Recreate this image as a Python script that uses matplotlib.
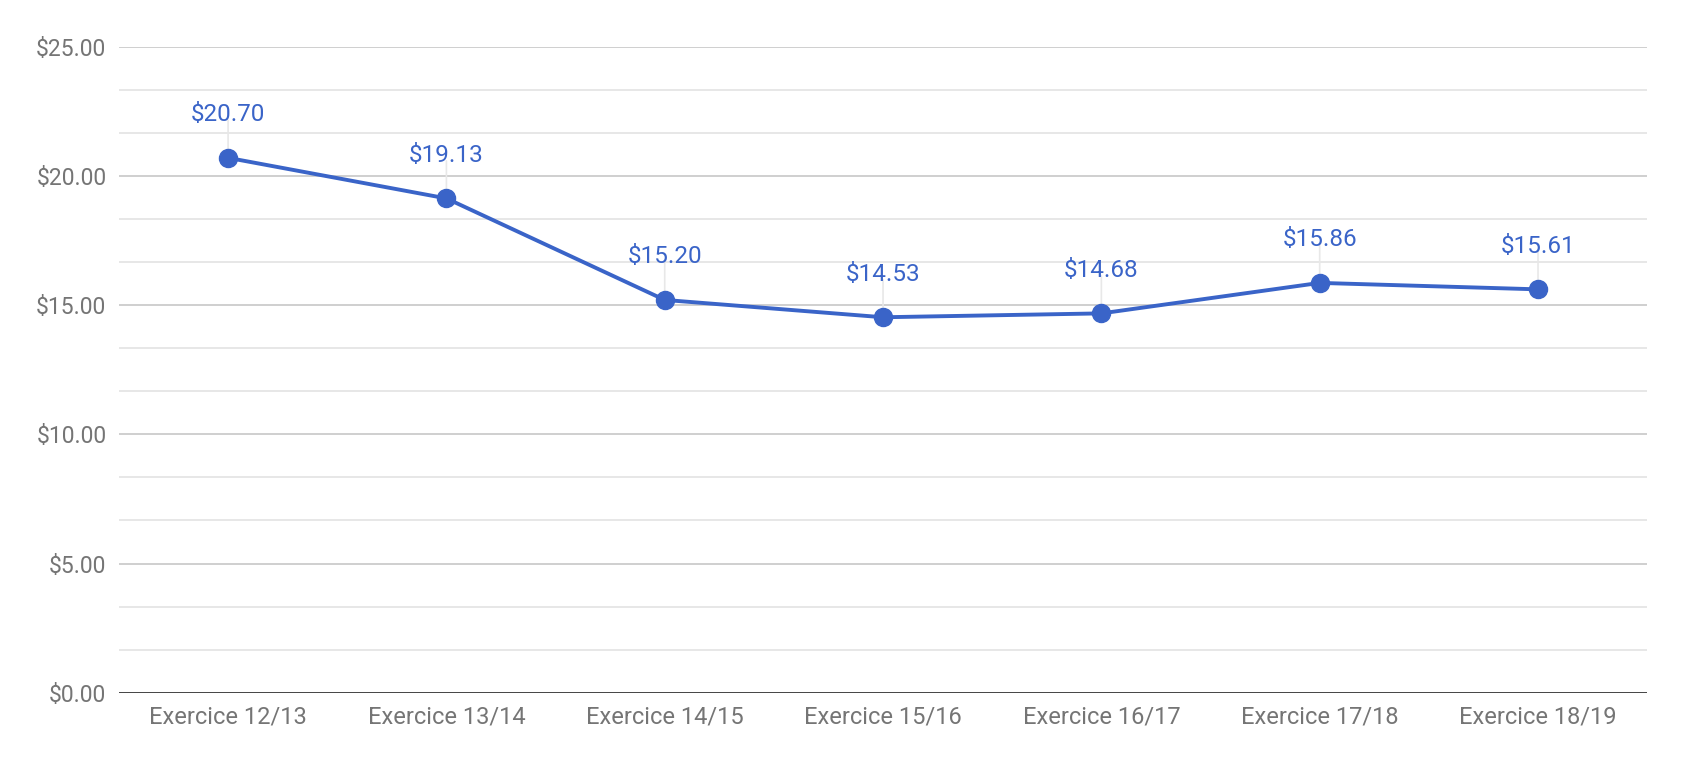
import matplotlib
matplotlib.use("Agg")
import matplotlib.pyplot as plt
import numpy as np

# data
categories = ["Exercice 12/13", "Exercice 13/14", "Exercice 14/15", "Exercice 15/16",
              "Exercice 16/17", "Exercice 17/18", "Exercice 18/19"]
values = [20.70, 19.13, 15.20, 14.53, 14.68, 15.86, 15.61]
y_ticks = [0, 5, 10, 15, 20, 25]

plt.rcParams['font.family'] = ['Roboto', 'DejaVu Sans']

blue = '#3a64c8'

fig = plt.figure(figsize=(16.82, 7.66), dpi=100)
ax = fig.add_axes([0.0707, 0.0957, 0.9086, 0.8433])

x = np.arange(len(categories))

# grid: major every 5, minor every 5/3
for v in np.arange(0, 25.01, 5 / 3):
    if abs(v - round(v / 5) * 5) < 1e-6:
        continue
    ax.axhline(v, color='#e5e5e5', linewidth=1.3, zorder=0)
for v in y_ticks[1:]:
    ax.axhline(v, color='#cccccc', linewidth=1.3, zorder=0)
ax.axhline(0, color='#333333', linewidth=2, zorder=1)

ax.plot(x, values, color=blue, linewidth=2.8, marker='o', markersize=13, zorder=3)

for xi, v in zip(x, values):
    ax.annotate('', xy=(xi, v), xytext=(0, 29), textcoords='offset points',
                arrowprops=dict(arrowstyle='-', color='#e8e8e8', lw=1.2), zorder=2)
    ax.annotate(f'${v:.2f}', xy=(xi, v), xytext=(0, 31), textcoords='offset points',
                ha='center', va='center', color=blue, fontsize=17.5)

ax.set_xlim(-0.5, len(categories) - 0.5)
ax.set_ylim(0, 25)
ax.set_xticks(x)
ax.set_xticklabels(categories)
ax.set_yticks(y_ticks)
ax.set_yticklabels([f'${t:.2f}' for t in y_ticks])
ax.tick_params(axis='both', length=0, labelcolor='#757575')
ax.tick_params(axis='y', pad=9, labelsize=16.5)
ax.tick_params(axis='x', pad=9, labelsize=17)
for s in ax.spines.values():
    s.set_visible(False)

fig.savefig('out.png', dpi=100)
